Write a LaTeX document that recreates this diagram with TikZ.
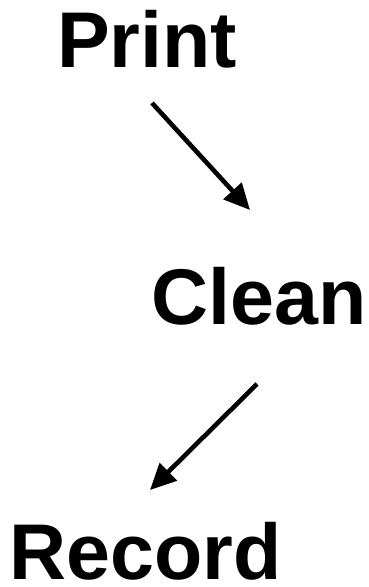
\documentclass[tikz,border=0pt]{standalone}
\usepackage{fontspec}
\setmainfont{Liberation Sans}
\usetikzlibrary{arrows.meta}
\begin{document}
\begin{tikzpicture}[x=1pt,y=1pt,
  word/.style={inner sep=0pt,anchor=base west,font=\fontsize{79}{84}\selectfont\bfseries},
  conn/.style={line width=4.6pt,-{Triangle[length=26pt,width=24pt]}}]
\useasboundingbox (0,0) rectangle (368,587);
\node[word] (print) at (57,519) {Print};
\node[word] (clean) at (151.5,262) {Clean};
\node[word] (record) at (9,7.5) {Record};
\coordinate (a1s) at (152,484);
\coordinate (a1e) at (250,377);
\coordinate (a2s) at (257,203);
\coordinate (a2e) at (150,97);
\draw[conn] (a1s) -- (a1e);
\draw[conn] (a2s) -- (a2e);
\end{tikzpicture}
\end{document}
